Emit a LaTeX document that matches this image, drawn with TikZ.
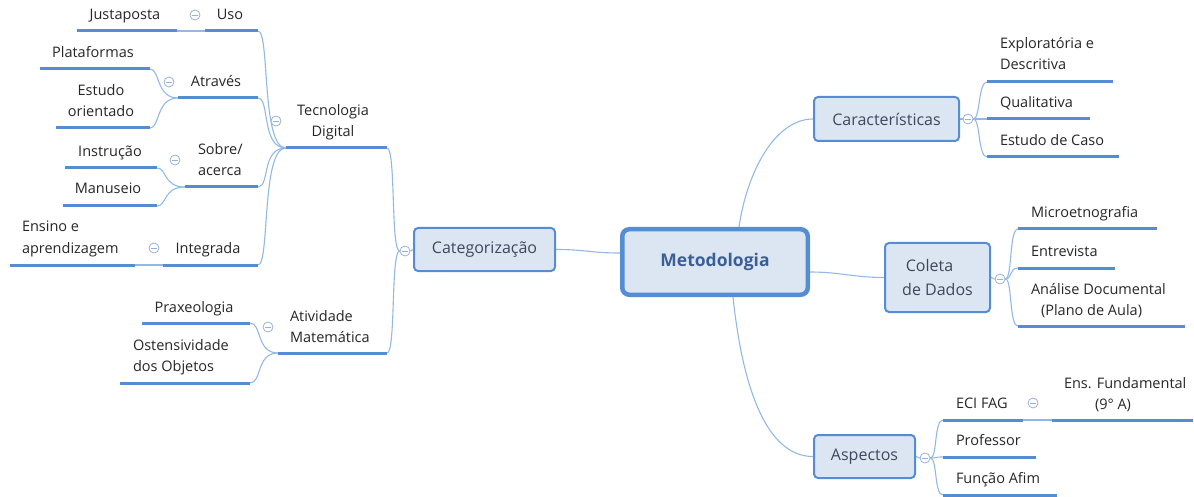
\documentclass[tikz,border=0pt]{standalone}
\usepackage{fontspec}
\setmainfont{Open Sans}
\usetikzlibrary{backgrounds}

\definecolor{ublue}{RGB}{84,141,212}
\definecolor{lblue}{RGB}{148,184,228}
\definecolor{boxfill}{RGB}{220,230,242}
\definecolor{togc}{RGB}{150,178,218}
\definecolor{leaftxt}{RGB}{38,38,38}
\definecolor{boxtxt}{RGB}{62,72,90}
\definecolor{roottxt}{RGB}{59,95,149}

\tikzset{
  bar/.style={rectangle, fill=ublue, draw=none, inner sep=0pt, outer sep=0pt,
    minimum height=3pt, anchor=west},
  lbl/.style={inner sep=0pt, outer sep=0pt, text=leaftxt,
    font=\fontsize{14.5}{21}\selectfont, anchor=base},
  lbll/.style={lbl, align=left, anchor=base west},
  lblc/.style={lbl, align=center},
  box/.style={rectangle, rounded corners=4pt, draw=ublue, fill=boxfill,
    line width=2pt, inner sep=0pt, text=boxtxt,
    font=\fontsize{16}{24}\selectfont, align=center},
  rootbox/.style={rectangle, rounded corners=7pt, draw=ublue, fill=boxfill,
    line width=4.5pt, inner sep=0pt, text=roottxt,
    font=\fontsize{17.5}{22}\selectfont\bfseries},
  tog/.style={circle, draw=togc, fill=white, line width=0.8pt,
    minimum size=10pt, inner sep=0pt,
    path picture={\draw[togc, line width=0.9pt]
      ([xshift=-2.6pt]path picture bounding box.center) --
      ([xshift=2.6pt]path picture bounding box.center);}},
  conn/.style={draw=lblue, line width=1.1pt}
}

\begin{document}
\begin{tikzpicture}[x=1pt, y=-1pt]
\useasboundingbox (0,0) rectangle (1194,497);

% ---------- central topic and main branches ----------
\node[rootbox, minimum width=185.5pt, minimum height=65.5pt] (met) at (715,262) {Metodologia};
\node[box, minimum width=141pt, minimum height=43pt] (cat) at (484.5,249.5) {Categoriza\c{c}\~ao};
\node[box, minimum width=145pt, minimum height=44pt] (car) at (886.5,119) {Caracter\'isticas};
\node[box, minimum width=105pt, minimum height=69pt] (col) at (937.5,277.5) {Coleta\hspace*{16pt}\\de Dados};
\node[box, minimum width=101pt, minimum height=43pt] (asp) at (864.5,456.5) {Aspectos};

% ---------- collapse toggles ----------
\node[tog] (tJus) at (195,15) {};
\node[tog] (tAtr) at (169,82) {};
\node[tog] (tSob) at (175,160) {};
\node[tog] (tInt) at (154,248) {};
\node[tog] (tTec) at (276,121) {};
\node[tog] (tAti) at (268,327) {};
\node[tog] (tCat) at (405,251) {};
\node[tog] (tCar) at (968,119) {};
\node[tog] (tCol) at (1000,279) {};
\node[tog] (tAsp) at (925,458) {};
\node[tog] (tEci) at (1033,403) {};

% ---------- left side: Tecnologia Digital ----------
% (two-line labels are anchored on the baseline of their last line)
\node[bar, minimum width=101pt] (tec) at (286,148) {};
\node[lblc] (tecT) at (333,137) {Tecnologia\\Digital};

\node[bar, minimum width=53pt] (uso) at (205,31) {};
\node[lbl] (usoT) at (230,20) {Uso};
\node[bar, minimum width=100pt] (jus) at (77,31) {};
\node[lbl] (jusT) at (125,20) {Justaposta};

\node[bar, minimum width=80pt] (atr) at (178,98) {};
\node[lbl] (atrT) at (216,87) {Atrav\'es};
\node[bar, minimum width=110pt] (pla) at (40,69) {};
\node[lbl] (plaT) at (93,58) {Plataformas};
\node[bar, minimum width=94pt] (est) at (56,128) {};
\node[lblc] (estT) at (101,117) {Estudo\\orientado};

\node[bar, minimum width=73pt] (sob) at (185,187) {};
\node[lbll] (sobT) at (198,176) {Sobre/\\acerca};
\node[bar, minimum width=92pt] (ins) at (65,168) {};
\node[lbl] (insT) at (110,157) {Instru\c{c}\~ao};
\node[bar, minimum width=94pt] (man) at (63,206) {};
\node[lbl] (manT) at (108,194) {Manuseio};

\node[bar, minimum width=95pt] (int) at (163,265) {};
\node[lbl] (intT) at (208,253) {Integrada};
\node[bar, minimum width=125pt] (ens) at (10,265) {};
\node[lbll] (ensT) at (22,253) {Ensino e\\aprendizagem};

% ---------- left side: Atividade Matematica ----------
\node[bar, minimum width=109pt] (ati) at (278,353) {};
\node[lbll] (atiT) at (290,342) {Atividade\\Matem\'atica};
\node[bar, minimum width=108pt] (pra) at (142,323) {};
\node[lbl] (praT) at (194,312) {Praxeologia};
\node[bar, minimum width=130pt] (ost) at (120,383) {};
\node[lbll] (ostT) at (133,371) {Ostensividade\\dos Objetos};

% ---------- right side: Caracteristicas ----------
\node[bar, minimum width=126pt] (exp) at (987,82) {};
\node[lbll] (expT) at (1000,70) {Explorat\'oria e\\Descritiva};
\node[bar, minimum width=103pt] (qua) at (987,119) {};
\node[lbll] (quaT) at (1000,108) {Qualitativa};
\node[bar, minimum width=132pt] (cas) at (987,157) {};
\node[lbll] (casT) at (1000,146) {Estudo de Caso};

% ---------- right side: Coleta de Dados ----------
\node[bar, minimum width=139pt] (mic) at (1018,229) {};
\node[lbll] (micT) at (1031,218) {Microetnografia};
\node[bar, minimum width=97pt] (ent) at (1018,268) {};
\node[lbll] (entT) at (1031,256) {Entrevista};
\node[bar, minimum width=167pt] (ana) at (1018,326) {};
\node[lbll] (anaT) at (1031,315) {An\'alise Documental\\\hspace*{10pt}(Plano de Aula)};

% ---------- right side: Aspectos ----------
\node[bar, minimum width=80pt] (eci) at (943,420) {};
\node[lbll] (eciT) at (956,408) {ECI FAG};
\node[bar, minimum width=141pt] (fun) at (1052,420) {};
\node[lbll] (funT) at (1064,409) {Ens. Fundamental\\\hspace*{31pt}(9° A)};
\node[bar, minimum width=93pt] (pro) at (943,457) {};
\node[lbll] (proT) at (956,445) {Professor};
\node[bar, minimum width=114pt] (afi) at (943,495) {};
\node[lbll] (afiT) at (956,483) {Fun\c{c}\~ao Afim};

% ---------- connectors ----------
\begin{pgfonlayer}{background}
  % central topic to main branches
  \draw[conn] ([yshift=9pt]met.west) .. controls +(-30,0) and +(30,0) .. (cat.east);
  \draw[conn] ([xshift=24pt]met.north) .. controls +(8,-55) and +(-38,0) .. (car.west);
  \draw[conn] ([yshift=-10pt]met.east) .. controls +(30,0) and +(-30,0) .. (col.west);
  \draw[conn] ([xshift=18pt]met.south) .. controls +(10,95) and +(-45,0) .. (asp.west);

  % Categorizacao
  \draw[conn] (cat.west) -- (tCat.east);
  \draw[conn] (tCat.west) .. controls +(-9,0) and +(9,0) .. (tec.east);
  \draw[conn] (tCat.west) .. controls +(-9,0) and +(9,0) .. (ati.east);

  % Tecnologia Digital
  \draw[conn] (tec.west) .. controls +(-25,0) and +(12,0) .. (uso.east);
  \draw[conn] (tec.west) .. controls +(-25,0) and +(12,0) .. (atr.east);
  \draw[conn] (tec.west) .. controls +(-25,0) and +(12,0) .. (sob.east);
  \draw[conn] (tec.west) .. controls +(-25,0) and +(12,0) .. (int.east);

  \draw[conn] (uso.west) -- (jus.east);
  \draw[conn] (atr.west) .. controls +(-22,0) and +(10,0) .. (pla.east);
  \draw[conn] (atr.west) .. controls +(-22,0) and +(10,0) .. (est.east);
  \draw[conn] (sob.west) .. controls +(-22,0) and +(10,0) .. (ins.east);
  \draw[conn] (sob.west) .. controls +(-22,0) and +(10,0) .. (man.east);
  \draw[conn] (int.west) -- (ens.east);

  % Atividade Matematica
  \draw[conn] (ati.west) .. controls +(-22,0) and +(12,0) .. (pra.east);
  \draw[conn] (ati.west) .. controls +(-22,0) and +(12,0) .. (ost.east);

  % Caracteristicas
  \draw[conn] (car.east) -- (tCar.west);
  \draw[conn] (tCar.east) .. controls +(7,0) and +(-9,0) .. (exp.west);
  \draw[conn] (tCar.east) -- (qua.west);
  \draw[conn] (tCar.east) .. controls +(7,0) and +(-9,0) .. (cas.west);

  % Coleta de Dados
  \draw[conn] (col.east) -- (tCol.west);
  \draw[conn] (tCol.east) .. controls +(7,0) and +(-9,0) .. (mic.west);
  \draw[conn] (tCol.east) .. controls +(7,0) and +(-9,0) .. (ent.west);
  \draw[conn] (tCol.east) .. controls +(7,0) and +(-9,0) .. (ana.west);

  % Aspectos
  \draw[conn] (asp.east) -- (tAsp.west);
  \draw[conn] (tAsp.east) .. controls +(7,0) and +(-9,0) .. (eci.west);
  \draw[conn] (tAsp.east) .. controls +(7,0) and +(-9,0) .. (pro.west);
  \draw[conn] (tAsp.east) .. controls +(7,0) and +(-9,0) .. (afi.west);
  \draw[conn] (eci.east) -- (fun.west);
\end{pgfonlayer}
\end{tikzpicture}
\end{document}
